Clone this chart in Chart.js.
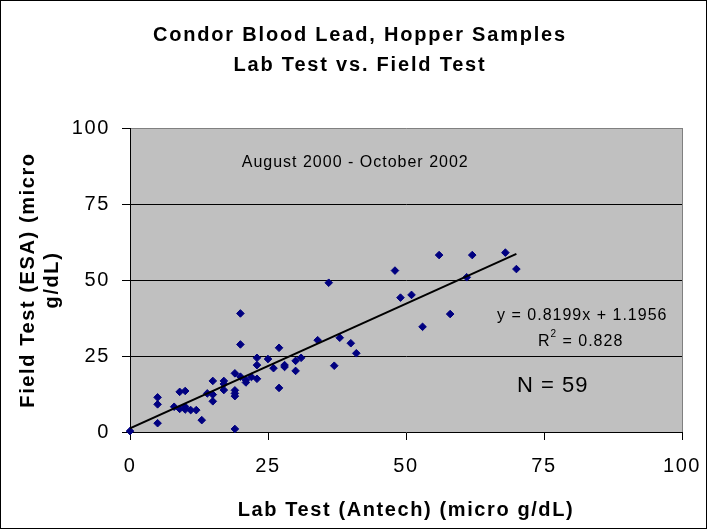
<!DOCTYPE html>
<html lang="en">
<head>
<meta charset="UTF-8">
<title>Condor Blood Lead, Hopper Samples</title>
<script src="https://cdn.jsdelivr.net/npm/chart.js"></script>
<style>
  html, body { margin: 0; padding: 0; background: #fff; }
  #wrap { width: 707px; height: 529px; }
</style>
</head>
<body>
<div id="wrap"><canvas id="leadChart" width="707" height="529"></canvas></div>
<script>
// values (59 samples)
const labTest = [0, 5, 5, 5, 8, 9, 9, 10, 10, 10, 11, 12, 13, 14, 15, 15, 15, 17, 17, 17,
                 19, 19, 19, 19, 19, 20, 20, 20, 21, 21, 22, 23, 23, 23, 25, 26, 27, 27, 28, 28,
                 30, 30, 31, 34, 36, 37, 38, 40, 41, 48, 49, 51, 53, 56, 58, 61, 62, 68, 70];
const fieldTest = [0.3, 11.4, 9.1, 2.9, 8.3, 13.2, 7.6, 13.5, 8.3, 7.4, 7.2, 7.2, 3.9, 12.7, 16.8, 12.3, 10.1, 16.8, 15.8, 13.8,
                   19.3, 13.7, 12.7, 11.8, 1.0, 39.0, 28.8, 18.2, 17.1, 16.3, 18.1, 17.5, 24.4, 22.0, 24.0, 21.0, 27.7, 14.5, 22.0, 21.4,
                   23.4, 20.1, 24.4, 30.2, 49.1, 21.8, 31.0, 29.2, 25.9, 53.1, 44.2, 45.1, 34.6, 58.2, 38.8, 50.9, 58.2, 59.0, 53.6];
// linear trendline end points
const trendX = [0, 70];
const trendY = [1.2, 58.6];
const axisTicks = [0, 25, 50, 75, 100];

const titleLines = ['Condor Blood Lead, Hopper Samples', 'Lab Test vs. Field Test'];
const xTitle = 'Lab Test (Antech) (micro g/dL)';
const yTitle = ['Field Test (ESA) (micro', 'g/dL)'];
const periodNote = 'August 2000 - October 2002';
const eqNote = 'y = 0.8199x + 1.1956';
const r2Value = '0.828';
const countNote = 'N = 59';

const FONT = "Arial, 'Liberation Sans', sans-serif";

const scatterPoints = labTest.map((x, i) => ({ x: x, y: fieldTest[i] }));
const trendPoints = trendX.map((x, i) => ({ x: x, y: trendY[i] }));

// gray plot area, frame, title and text boxes
const decor = {
    id: 'decor',
    beforeDraw(chart) {
        const { ctx, chartArea: a } = chart;
        ctx.save();
        ctx.fillStyle = '#fff';
        ctx.fillRect(0, 0, chart.width, chart.height);
        ctx.fillStyle = '#c0c0c0';
        ctx.fillRect(a.left, a.top, a.right - a.left, a.bottom - a.top);
        ctx.restore();
        ctx.letterSpacing = '1.6px';
    },
    beforeDatasetsDraw(chart) {
        const { ctx, chartArea: a } = chart;
        ctx.save();
        ctx.strokeStyle = '#808080';
        ctx.lineWidth = 1;
        ctx.beginPath();
        ctx.moveTo(a.right + 0.5, a.top);
        ctx.lineTo(a.right + 0.5, a.bottom);
        ctx.stroke();
        ctx.restore();
    },
    afterDraw(chart) {
        const { ctx } = chart;
        const xs = chart.scales.x, ys = chart.scales.y;
        ctx.save();
        ctx.fillStyle = '#000';
        ctx.textBaseline = 'middle';

        // chart title
        ctx.letterSpacing = '1.8px';
        ctx.textAlign = 'center';
        ctx.font = 'bold 20px ' + FONT;
        ctx.fillText(titleLines[0], 360, 35);
        ctx.fillText(titleLines[1], 360, 65);

        // notes inside the plot
        ctx.letterSpacing = '1px';
        ctx.font = '16px ' + FONT;
        ctx.fillText(periodNote, xs.getPixelForValue(40.8), ys.getPixelForValue(88.5));

        ctx.textAlign = 'left';
        ctx.fillText(eqNote, xs.getPixelForValue(66.5), ys.getPixelForValue(38.2));

        let rx = xs.getPixelForValue(73.9);
        const ry = ys.getPixelForValue(29.9);
        ctx.fillText('R', rx, ry);
        rx += ctx.measureText('R').width;
        ctx.font = '10px ' + FONT;
        ctx.fillText('2', rx, ry - 7);
        rx += ctx.measureText('2').width;
        ctx.font = '16px ' + FONT;
        ctx.fillText(' = ' + r2Value, rx, ry);

        ctx.font = '22px ' + FONT;
        ctx.fillText(countNote, xs.getPixelForValue(70.1), ys.getPixelForValue(15.1));

        // outer frame
        ctx.strokeStyle = '#000';
        ctx.lineWidth = 1;
        ctx.strokeRect(0.5, 0.5, chart.width - 1, chart.height - 1);
        ctx.restore();
        ctx.letterSpacing = '0px';
    }
};

const ctx = document.getElementById('leadChart').getContext('2d');
const leadChart = new Chart(ctx, {
    type: 'scatter',
    data: {
        datasets: [
            {
                label: 'Trend',
                data: trendPoints,
                showLine: true,
                borderColor: '#000',
                borderWidth: 2,
                pointRadius: 0,
                fill: false
            },
            {
                label: 'Samples',
                data: scatterPoints,
                pointStyle: 'rectRot',
                pointRadius: 3.8,
                backgroundColor: '#000080',
                borderColor: '#000080',
                borderWidth: 1,
                clip: false
            }
        ]
    },
    options: {
        responsive: false,
        animation: false,
        devicePixelRatio: 1,
        layout: { padding: { top: 128, right: 25, bottom: 0, left: 0 } },
        plugins: {
            legend: { display: false },
            tooltip: { enabled: false },
            title: { display: false }
        },
        scales: {
            x: {
                type: 'linear',
                min: 0,
                max: 100,
                afterBuildTicks: s => { s.ticks = axisTicks.map(v => ({ value: v })); },
                afterFit: s => { s.height = 97; s.paddingLeft = 0; s.paddingRight = 0; },
                ticks: { color: '#000', padding: 14, font: { family: FONT, size: 20 } },
                grid: { drawOnChartArea: false, tickLength: 8, tickColor: '#000', color: '#000' },
                border: { color: '#000', width: 1 },
                title: {
                    display: true,
                    text: xTitle,
                    color: '#000',
                    font: { family: FONT, size: 20, weight: 'bold', lineHeight: 1.2 },
                    padding: { top: 0, bottom: 7 }
                }
            },
            y: {
                type: 'linear',
                min: 0,
                max: 100,
                afterBuildTicks: s => { s.ticks = axisTicks.map(v => ({ value: v })); },
                afterFit: s => { s.width = 130; s.paddingTop = 0; s.paddingBottom = 0; },
                ticks: { color: '#000', padding: 12, font: { family: FONT, size: 20 } },
                grid: {
                    tickLength: 8,
                    tickColor: '#000',
                    color: c => c.tick.value === 0 ? 'rgba(0,0,0,0)' : (c.tick.value === 100 ? '#808080' : '#000')
                },
                border: { color: '#000', width: 1 },
                title: {
                    display: true,
                    text: yTitle,
                    color: '#000',
                    font: { family: FONT, size: 20, weight: 'bold', lineHeight: 1.2 },
                    padding: { top: 16, bottom: 0 }
                }
            }
        }
    },
    plugins: [decor]
});
</script>
</body>
</html>
